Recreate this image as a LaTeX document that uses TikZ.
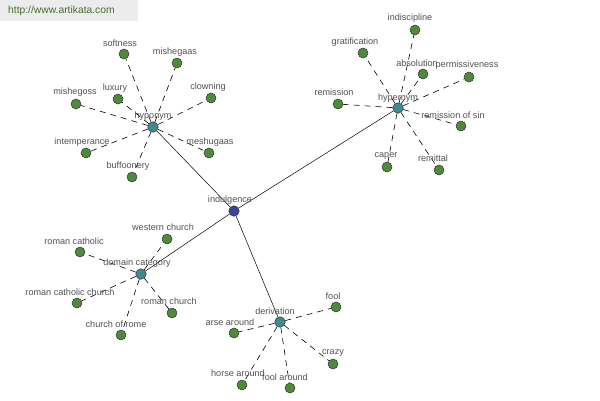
\documentclass[tikz,border=0pt]{standalone}
\usepackage{fontspec}
\setmainfont{Liberation Sans}
\begin{document}
\begin{tikzpicture}[x=1pt,y=-1pt,
  leaf/.style={circle,draw=black!80,line width=0.5pt,fill=leafgreen,minimum size=10pt,inner sep=0pt},
  hub/.style={circle,draw=black!80,line width=0.5pt,fill=hubteal,minimum size=10.5pt,inner sep=0pt},
  root/.style={circle,draw=black!80,line width=0.5pt,fill=rootblue,minimum size=10.5pt,inner sep=0pt},
  lbl/.style={font=\fontsize{9.1}{10}\selectfont,text=black!68,inner sep=0pt},
  dl/.style={dash pattern=on 6pt off 5pt,line width=0.6pt,black},
  sl/.style={line width=0.5pt,black}]
\definecolor{leafgreen}{HTML}{4F8A3C}
\definecolor{hubteal}{HTML}{3D8B8E}
\definecolor{rootblue}{HTML}{3A4595}
\definecolor{hdrgrey}{HTML}{ECECEC}
\definecolor{hdrtext}{HTML}{4D6B2E}
\useasboundingbox (0,0) rectangle (600,400);
\fill[white] (0,0) rectangle (600,400);
\fill[hdrgrey] (0,0) rectangle (138,21);
\node[font=\fontsize{10.3}{11}\selectfont,text=hdrtext,anchor=west,inner sep=0pt] (hdr) at (8,11) {http://www.artikata.com};

% hubs
\node[root] (ind) at (234,211) {};
\node[hub] (hypo) at (153,127) {};
\node[hub] (hyper) at (398,108) {};
\node[hub] (dom) at (141,274) {};
\node[hub] (der) at (280,322) {};

% hyponym leaves
\node[leaf] (softness) at (124,54) {};
\node[leaf] (mishegaas) at (177,63) {};
\node[leaf] (clowning) at (211,98) {};
\node[leaf] (luxury) at (118,99) {};
\node[leaf] (mishegoss) at (76,104) {};
\node[leaf] (intemp) at (86,153) {};
\node[leaf] (meshugaas) at (209,153) {};
\node[leaf] (buff) at (132,177) {};

% hypernym leaves
\node[leaf] (indisc) at (415,30) {};
\node[leaf] (grat) at (363,53) {};
\node[leaf] (absol) at (423,74) {};
\node[leaf] (permis) at (469,77) {};
\node[leaf] (remis) at (338,104) {};
\node[leaf] (remsin) at (461,126) {};
\node[leaf] (caper) at (387,167) {};
\node[leaf] (remit) at (439,170) {};

% domain leaves
\node[leaf] (western) at (167,239) {};
\node[leaf] (romcath) at (80,252) {};
\node[leaf] (romcathch) at (77,303) {};
\node[leaf] (romch) at (172,313) {};
\node[leaf] (chrome) at (121,335) {};

% derivation leaves
\node[leaf] (fool) at (336,307) {};
\node[leaf] (arse) at (234,333) {};
\node[leaf] (crazy) at (333,364) {};
\node[leaf] (horse) at (242,385) {};
\node[leaf] (foolar) at (290,388) {};

% connectors
\foreach \a in {softness,mishegaas,clowning,luxury,mishegoss,intemp,meshugaas,buff}
  \draw[dl] (hypo) -- (\a);
\foreach \a in {indisc,grat,absol,permis,remis,remsin,caper,remit}
  \draw[dl] (hyper) -- (\a);
\foreach \a in {western,romcath,romcathch,romch,chrome}
  \draw[dl] (dom) -- (\a);
\foreach \a in {fool,arse,crazy,horse,foolar}
  \draw[dl] (der) -- (\a);
\draw[sl] (ind) -- (hypo);
\draw[sl] (ind) -- (hyper);
\draw[sl] (ind) -- (dom);
\draw[sl] (ind) -- (der);

% labels
\node[lbl] (l-ind) at (230,200) {indulgence};
\node[lbl] (l-hypo) at (153,116) {hyponym};
\node[lbl] (l-hyper) at (398,98) {hypernym};
\node[lbl] (l-dom) at (137,263) {domain category};
\node[lbl] (l-der) at (275,311) {derivation};

\node[lbl] (l1) at (120,43) {softness};
\node[lbl] (l2) at (175,52) {mishegaas};
\node[lbl] (l3) at (208,87) {clowning};
\node[lbl] (l4) at (115,88) {luxury};
\node[lbl] (l5) at (75,92) {mishegoss};
\node[lbl] (l6) at (82,142) {intemperance};
\node[lbl] (l7) at (210,142) {meshugaas};
\node[lbl] (l8) at (128,166) {buffoonery};

\node[lbl] (l9) at (410,18) {indiscipline};
\node[lbl] (l10) at (355,42) {gratification};
\node[lbl] (l11) at (417,63) {absolution};
\node[lbl] (l12) at (467,65) {permissiveness};
\node[lbl] (l13) at (334,92) {remission};
\node[lbl] (l14) at (453,115) {remission of sin};
\node[lbl] (l15) at (386,156) {caper};
\node[lbl] (l16) at (433,158) {remittal};

\node[lbl] (l17) at (163,227) {western church};
\node[lbl] (l18) at (74,241) {roman catholic};
\node[lbl] (l19) at (70,292) {roman catholic church};
\node[lbl] (l20) at (169,301) {roman church};
\node[lbl] (l21) at (116,324) {church of rome};

\node[lbl] (l22) at (333,296) {fool};
\node[lbl] (l23) at (230,322) {arse around};
\node[lbl] (l24) at (333,353) {crazy};
\node[lbl] (l25) at (238,373) {horse around};
\node[lbl] (l26) at (285,377) {fool around};
\end{tikzpicture}
\end{document}
